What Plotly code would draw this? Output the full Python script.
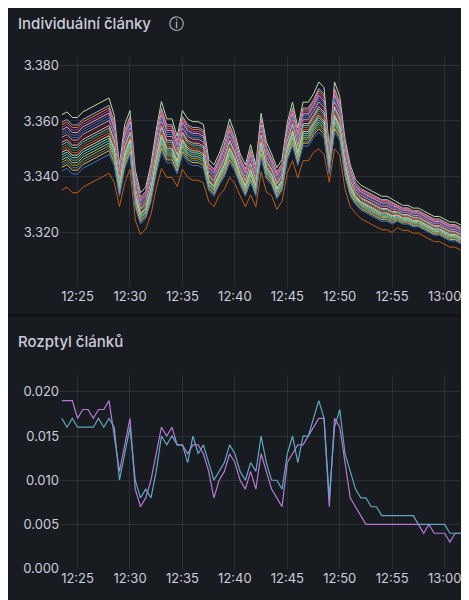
import pandas as pd
import plotly.graph_objects as go

W, H = 469, 600

times = pd.date_range("2024-01-01 12:23:30", "2024-01-01 13:03:00", freq="30s")

# middle of the bundle of individual cells (V)
cell_mid = [3.351, 3.352, 3.350, 3.350, 3.352, 3.353, 3.354, 3.355, 3.356, 3.357,
            3.352, 3.338, 3.350, 3.355, 3.335, 3.328, 3.330, 3.337, 3.348, 3.357,
            3.352, 3.352, 3.347, 3.355, 3.352, 3.351, 3.351, 3.350, 3.340, 3.338,
            3.342, 3.346, 3.352, 3.348, 3.342, 3.338, 3.344, 3.338, 3.354, 3.345,
            3.342, 3.337, 3.340, 3.352, 3.358, 3.350, 3.358, 3.358, 3.361, 3.364,
            3.362, 3.345, 3.364, 3.360, 3.346, 3.338, 3.334, 3.332, 3.331, 3.330,
            3.329, 3.328, 3.328, 3.327, 3.327, 3.326, 3.326, 3.325, 3.325, 3.324,
            3.323, 3.322, 3.322, 3.321, 3.320, 3.320, 3.319, 3.319, 3.319, 3.319]
# half-width of the bundle (V)
cell_spread = [0.009, 0.009, 0.009, 0.009, 0.009, 0.009, 0.009, 0.009, 0.009, 0.009,
               0.008, 0.005, 0.007, 0.007, 0.006, 0.005, 0.005, 0.006, 0.007, 0.008,
               0.007, 0.007, 0.006, 0.007, 0.007, 0.007, 0.007, 0.007, 0.005, 0.005,
               0.005, 0.006, 0.007, 0.006, 0.005, 0.005, 0.006, 0.005, 0.007, 0.006,
               0.005, 0.005, 0.005, 0.006, 0.007, 0.006, 0.007, 0.007, 0.007, 0.008,
               0.008, 0.004, 0.008, 0.007, 0.006, 0.005, 0.004, 0.004, 0.004, 0.004,
               0.004, 0.004, 0.004, 0.004, 0.003, 0.003, 0.003, 0.003, 0.003, 0.003,
               0.003, 0.003, 0.003, 0.003, 0.003, 0.003, 0.003, 0.003, 0.003, 0.003]
# relative position of each cell within the bundle
cell_pos = [1.25, 0.95, 0.85, 0.75, 0.65, 0.55, 0.45, 0.35, 0.25, 0.15, 0.05,
            -0.05, -0.15, -0.25, -0.35, -0.45, -0.55, -0.65, -0.75, -0.85, -1.0, -1.75]
cell_colors = ["#B7DBAB", "#AEA2E0", "#EF843C", "#BA43A9", "#E5A8E2", "#705DA0",
               "#1F78C1", "#F29191", "#6D1F62", "#F9BA8F", "#82B5D8", "#508642",
               "#E24D42", "#F4D598", "#70DBED", "#7EB26D", "#6ED0E0", "#CCA300",
               "#447EBC", "#EAB839", "#3274D9", "#C15C17"]

var_a = [0.019, 0.019, 0.019, 0.017, 0.018, 0.018, 0.017, 0.018, 0.018, 0.019,
         0.015, 0.011, 0.014, 0.017, 0.009, 0.007, 0.008, 0.010, 0.013, 0.016,
         0.015, 0.016, 0.014, 0.014, 0.013, 0.014, 0.014, 0.013, 0.011, 0.008,
         0.010, 0.011, 0.013, 0.012, 0.010, 0.009, 0.011, 0.009, 0.013, 0.011,
         0.009, 0.008, 0.007, 0.012, 0.013, 0.014, 0.014, 0.015, 0.016, 0.017,
         0.017, 0.007, 0.017, 0.016, 0.012, 0.008, 0.007, 0.006, 0.005, 0.005,
         0.005, 0.005, 0.005, 0.005, 0.005, 0.005, 0.005, 0.005, 0.005, 0.004,
         0.005, 0.004, 0.004, 0.004, 0.003, 0.004, 0.004, 0.004, 0.004, 0.003]
var_b = [0.017, 0.016, 0.017, 0.016, 0.016, 0.016, 0.016, 0.017, 0.016, 0.017,
         0.016, 0.010, 0.013, 0.016, 0.010, 0.008, 0.009, 0.008, 0.011, 0.015,
         0.014, 0.015, 0.014, 0.014, 0.012, 0.015, 0.013, 0.014, 0.012, 0.010,
         0.011, 0.012, 0.014, 0.013, 0.011, 0.010, 0.012, 0.011, 0.015, 0.012,
         0.010, 0.010, 0.009, 0.013, 0.015, 0.012, 0.015, 0.015, 0.017, 0.019,
         0.017, 0.008, 0.016, 0.018, 0.013, 0.011, 0.009, 0.008, 0.008, 0.007,
         0.007, 0.006, 0.006, 0.006, 0.006, 0.006, 0.006, 0.006, 0.005, 0.005,
         0.005, 0.005, 0.005, 0.005, 0.004, 0.004, 0.004, 0.004, 0.004, 0.004]

BG = "#181b1f"
TXT = "#ccccdc"
GRID = "rgba(204,204,220,0.10)"

fig = go.Figure()
for pos, col in zip(cell_pos, cell_colors):
    ys = [m + pos * s for m, s in zip(cell_mid, cell_spread)]
    fig.add_trace(go.Scatter(x=times, y=ys, mode="lines", line=dict(color=col, width=1),
                             xaxis="x", yaxis="y", showlegend=False))
fig.add_trace(go.Scatter(x=times, y=var_a, mode="lines", line=dict(color="#B877D9", width=1.2),
                         xaxis="x2", yaxis="y2", showlegend=False))
fig.add_trace(go.Scatter(x=times, y=var_b, mode="lines", line=dict(color="#5FA8C0", width=1.2),
                         xaxis="x2", yaxis="y2", showlegend=False))

xr = ["2024-01-01 12:23:20", "2024-01-01 13:03:05"]
xcommon = dict(range=xr, tickformat="%H:%M", dtick=300000, showgrid=True, gridcolor=GRID,
               zeroline=False, showline=False, ticks="", tickfont=dict(size=13, color=TXT),
               domain=[0.111, 1])
fig.update_layout(
    width=W, height=H, margin=dict(l=0, r=0, t=0, b=0),
    paper_bgcolor=BG, plot_bgcolor=BG, font=dict(family="Inter", color=TXT),
    xaxis=dict(xcommon, anchor="y"),
    xaxis2=dict(xcommon, anchor="y2"),
    yaxis=dict(domain=[0.528, 0.917], range=[3.3003, 3.3829], dtick=0.02, tickformat=".3f",
               showgrid=True, gridcolor=GRID, zeroline=False, ticks="",
               tickfont=dict(size=13, color=TXT)),
    yaxis2=dict(domain=[0.053, 0.38], range=[0, 0.0219], dtick=0.005, tickformat=".3f",
                showgrid=True, gridcolor=GRID, zeroline=False, ticks="",
                tickfont=dict(size=13, color=TXT)),
    shapes=[dict(type="rect", xref="paper", yref="paper", x0=0, x1=1,
                 y0=1 - 313 / H, y1=1 - 310 / H, fillcolor="#111217", line_width=0)],
    annotations=[
        dict(text="Individuální články", x=8 / W, y=1 - 16 / H, xref="paper", yref="paper",
             xanchor="left", yanchor="middle", showarrow=False,
             font=dict(size=15, color=TXT, weight=500)),
        dict(text="ⓘ", x=168 / W, y=1 - 16 / H, xref="paper", yref="paper",
             xanchor="center", yanchor="middle", showarrow=False, font=dict(size=15, color=TXT)),
        dict(text="Rozptyl článků", x=8 / W, y=1 - 338 / H, xref="paper", yref="paper",
             xanchor="left", yanchor="middle", showarrow=False,
             font=dict(size=15, color=TXT, weight=500)),
    ],
)

fig.write_html("out.html")
